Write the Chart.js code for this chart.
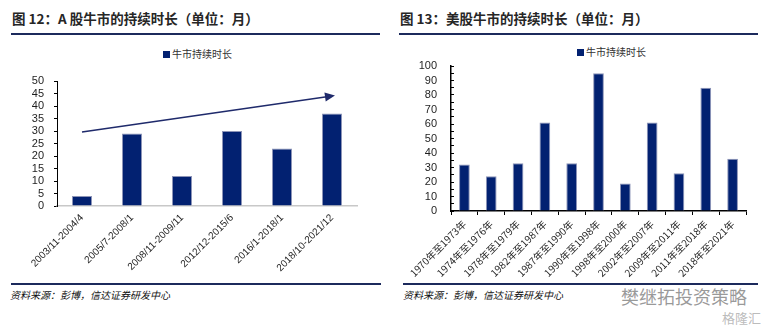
<!DOCTYPE html>
<html><head><meta charset="utf-8">
<script src="https://cdn.jsdelivr.net/npm/chart.js@4"></script>
<style>
body{margin:0;width:775px;height:328px;background:#fff;position:relative;overflow:hidden;font-family:"Noto Sans CJK SC",sans-serif;}
.t{position:absolute;font-weight:bold;font-size:13.5px;color:#262626;white-space:nowrap;line-height:1}
.rule{position:absolute;height:2px;background:#1c2a5c}
.src{position:absolute;font-size:10px;font-style:italic;color:#111;white-space:nowrap;line-height:1}
.lg{position:absolute;font-size:10px;color:#333;white-space:nowrap;line-height:1}
.lg i{display:inline-block;width:7px;height:7px;background:#022171;margin-right:2px;vertical-align:0}
canvas{position:absolute}
.wm{position:absolute;white-space:nowrap;line-height:1}
</style></head>
<body>
<div class="t" style="left:12px;top:12px">图 12：A 股牛市的持续时长（单位：月）</div>
<div class="t" style="left:400px;top:12px">图 13：美股牛市的持续时长（单位：月）</div>
<div class="rule" style="left:11px;top:33px;width:369px"></div>
<div class="rule" style="left:399px;top:33px;width:359px"></div>
<div class="lg" style="left:163px;top:49px"><i></i>牛市持续时长</div>
<div class="lg" style="left:577px;top:47px"><i></i>牛市持续时长</div>
<canvas id="c1" width="370" height="242" style="left:10px;top:40px"></canvas>
<canvas id="c2" width="370" height="242" style="left:395px;top:40px"></canvas>
<div class="rule" style="left:11px;top:283px;width:370px"></div>
<div class="rule" style="left:403px;top:283px;width:355px"></div>
<div class="src" style="left:10px;top:290px">资料来源：彭博，信达证券研发中心</div>
<div class="src" style="left:403px;top:290px">资料来源：彭博，信达证券研发中心</div>
<div class="wm" style="left:621px;top:287px;font-size:18px;color:rgba(120,120,120,0.75)">樊继拓投资策略</div>
<div class="wm" style="left:722px;top:311px;font-size:13px;color:rgba(170,170,170,0.8)">格隆汇</div>
<script>
// A-share bull markets
const aCategories = ["2003/11-2004/4","2005/7-2008/1","2008/11-2009/11","2012/12-2015/6","2016/1-2018/1","2018/10-2021/12"];
const aDurations = [4, 29, 12, 30, 23, 37];
const aTrendLine = [29.6, null, null, null, null, 44];
const aYMax = 50, aYStep = 5;
// US bull markets
const usCategories = ["1970年至1973年","1974年至1976年","1978年至1979年","1982年至1987年","1987年至1990年","1990年至1998年","1998年至2000年","2002年至2007年","2009年至2011年","2011年至2018年","2018年至2021年"];
const usDurations = [32, 24, 33, 61, 33, 95, 19, 61, 26, 85, 36];
const usYMax = 100, usYStep = 5, usLabelStep = 10;
const seriesLabel = "牛市持续时长";

const BAR = '#022171', BAR_EDGE = '#8d94b7', TXT = '#1e1e1e';
const numFont = {family:'"Liberation Sans", Arial, sans-serif', size:11};

const arrowPlugin = {id:'arrowHead', afterDatasetsDraw(chart){
  const meta = chart.getDatasetMeta(1);
  const pts = meta.data.filter((p,i)=>aTrendLine[i]!=null);
  const a = pts[0], b = pts[pts.length-1];
  const ang = Math.atan2(b.y-a.y, b.x-a.x);
  const ctx = chart.ctx; ctx.save(); ctx.fillStyle = '#1f2a6b';
  ctx.translate(b.x, b.y); ctx.rotate(ang);
  ctx.beginPath(); ctx.moveTo(3,0); ctx.lineTo(-7,-4.5); ctx.lineTo(-7,4.5); ctx.closePath(); ctx.fill();
  ctx.restore();
}};

new Chart(document.getElementById('c1'), {
  type:'bar',
  data:{labels:aCategories, datasets:[
    {type:'bar', label:seriesLabel, data:aDurations, backgroundColor:BAR, borderColor:BAR_EDGE, borderWidth:1, barPercentage:0.4, categoryPercentage:1, order:2},
    {type:'line', label:'趋势', data:aTrendLine, spanGaps:true, borderColor:'#1f2a6b', borderWidth:1.5, pointRadius:0, order:1}
  ]},
  options:{responsive:false, animation:false,
    layout:{padding:{left:0,right:23,top:41,bottom:0}},
    plugins:{legend:{display:false}, tooltip:{enabled:false}},
    scales:{
      x:{grid:{display:false, drawTicks:true, tickLength:4}, border:{display:true,color:'#c8c8c8',width:1.5},
         ticks:{autoSkip:false,maxRotation:45,minRotation:45,padding:2,font:{family:numFont.family,size:10},color:TXT},
         afterFit:s=>{s.height=76}},
      y:{min:0,max:aYMax,ticks:{stepSize:aYStep,autoSkip:false,padding:10,font:numFont,color:TXT},
         grid:{drawOnChartArea:false,drawTicks:true,tickLength:3,color:'#000'},
         border:{color:'#000',width:1}, afterFit:s=>{s.width=47}}
    }},
  plugins:[arrowPlugin]
});

new Chart(document.getElementById('c2'), {
  type:'bar',
  data:{labels:usCategories, datasets:[
    {label:seriesLabel, data:usDurations, backgroundColor:BAR, borderColor:BAR_EDGE, borderWidth:1, barPercentage:0.4, categoryPercentage:1}
  ]},
  options:{responsive:false, animation:false,
    layout:{padding:{left:0,right:19,top:26,bottom:0}},
    plugins:{legend:{display:false}, tooltip:{enabled:false}},
    scales:{
      x:{grid:{display:true,drawOnChartArea:false,drawTicks:true,tickLength:4,color:'#000',offset:true},
         border:{display:true,color:'#000',width:1.5},
         ticks:{autoSkip:false,maxRotation:45,minRotation:45,padding:3,font:{family:'"Noto Sans CJK SC", sans-serif',size:10},color:TXT},
         afterFit:s=>{s.height=71}},
      y:{min:0,max:usYMax,ticks:{stepSize:usYStep,autoSkip:false,padding:17,font:numFont,color:TXT,callback:v=>v%usLabelStep===0?v:''},
         grid:{drawOnChartArea:false,drawTicks:true,tickLength:-3,color:'#000'},
         border:{color:'#000',width:1.5}, afterFit:s=>{s.width=56}}
    }}
});
</script>
</body></html>
